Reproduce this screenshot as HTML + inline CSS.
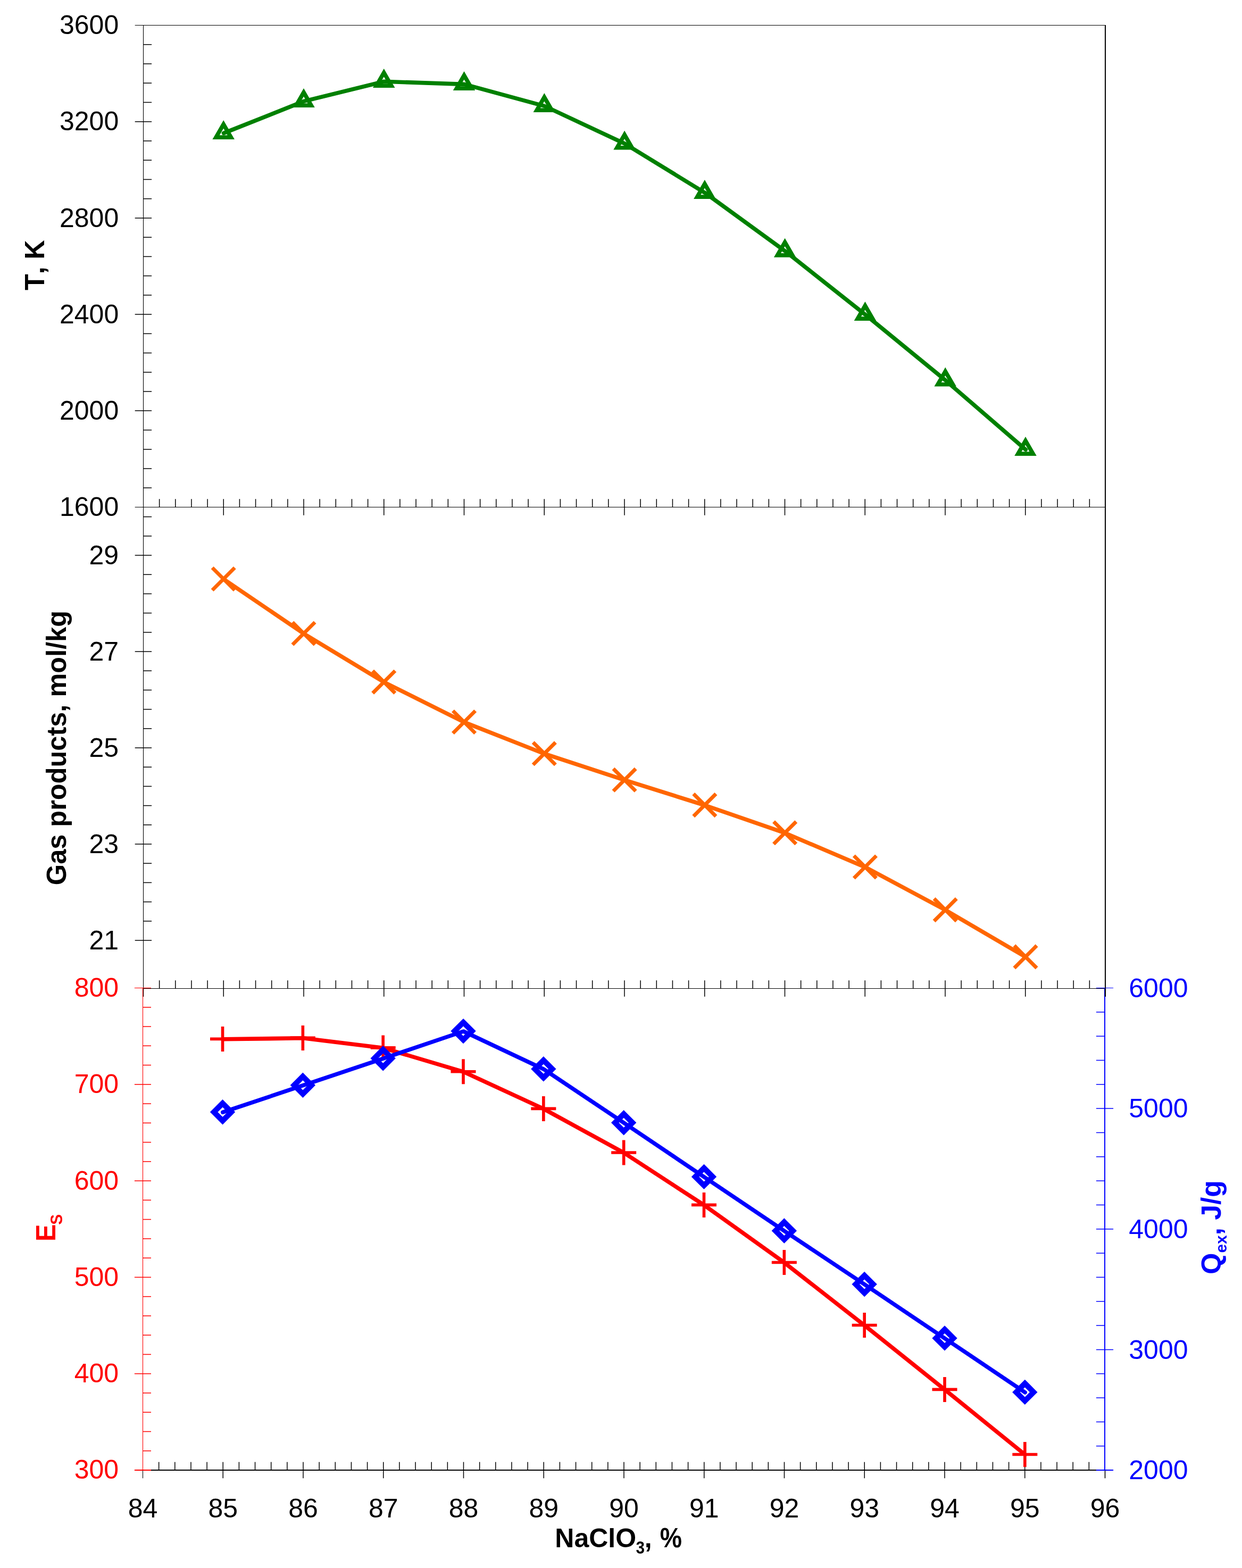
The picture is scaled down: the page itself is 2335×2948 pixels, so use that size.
<!DOCTYPE html>
<html lang="en">
<head>
<meta charset="utf-8">
<title>Combustion characteristics vs NaClO3 content</title>
<style>
html, body { margin: 0; padding: 0; background: #ffffff; }
body { width: 2335px; height: 2948px; overflow: hidden; }
svg { display: block; font-family: "Liberation Sans", sans-serif; font-kerning: none; }
</style>
</head>
<body>
<svg width="2335" height="2948" viewBox="0 0 2335 2948">
<rect x="0" y="0" width="2335" height="2948" fill="#ffffff"/>
<g id="frame">
<line x1="253.70" y1="47.50" x2="2079.00" y2="47.50" stroke="#000000" stroke-width="1.1"/>
<line x1="269.50" y1="47.50" x2="269.50" y2="1873.80" stroke="#000000" stroke-width="1.1"/>
<line x1="2078.00" y1="47.00" x2="2078.00" y2="1873.80" stroke="#000000" stroke-width="2"/>
<line x1="253.70" y1="953.50" x2="2078.00" y2="953.50" stroke="#000000" stroke-width="1.1"/>
<line x1="269.50" y1="1858.50" x2="2078.00" y2="1858.50" stroke="#000000" stroke-width="1.1"/>
<line x1="283.80" y1="2764.00" x2="2061.70" y2="2764.00" stroke="#000000" stroke-width="2"/>
<line x1="268.50" y1="2764.00" x2="268.50" y2="2779.30" stroke="#000000" stroke-width="1.1"/>
<line x1="2077.50" y1="2764.00" x2="2077.50" y2="2779.30" stroke="#000000" stroke-width="1.6"/>
</g>
<g id="xticks">
<line x1="299.65" y1="938.20" x2="299.65" y2="953.50" stroke="#000000" stroke-width="1.5"/>
<line x1="329.80" y1="938.20" x2="329.80" y2="953.50" stroke="#000000" stroke-width="1.5"/>
<line x1="359.95" y1="938.20" x2="359.95" y2="953.50" stroke="#000000" stroke-width="1.5"/>
<line x1="390.10" y1="938.20" x2="390.10" y2="953.50" stroke="#000000" stroke-width="1.5"/>
<line x1="420.25" y1="938.20" x2="420.25" y2="968.80" stroke="#000000" stroke-width="1.5"/>
<line x1="450.40" y1="938.20" x2="450.40" y2="953.50" stroke="#000000" stroke-width="1.5"/>
<line x1="480.55" y1="938.20" x2="480.55" y2="953.50" stroke="#000000" stroke-width="1.5"/>
<line x1="510.70" y1="938.20" x2="510.70" y2="953.50" stroke="#000000" stroke-width="1.5"/>
<line x1="540.85" y1="938.20" x2="540.85" y2="953.50" stroke="#000000" stroke-width="1.5"/>
<line x1="571.00" y1="938.20" x2="571.00" y2="968.80" stroke="#000000" stroke-width="1.5"/>
<line x1="601.15" y1="938.20" x2="601.15" y2="953.50" stroke="#000000" stroke-width="1.5"/>
<line x1="631.30" y1="938.20" x2="631.30" y2="953.50" stroke="#000000" stroke-width="1.5"/>
<line x1="661.45" y1="938.20" x2="661.45" y2="953.50" stroke="#000000" stroke-width="1.5"/>
<line x1="691.60" y1="938.20" x2="691.60" y2="953.50" stroke="#000000" stroke-width="1.5"/>
<line x1="721.75" y1="938.20" x2="721.75" y2="968.80" stroke="#000000" stroke-width="1.5"/>
<line x1="751.90" y1="938.20" x2="751.90" y2="953.50" stroke="#000000" stroke-width="1.5"/>
<line x1="782.05" y1="938.20" x2="782.05" y2="953.50" stroke="#000000" stroke-width="1.5"/>
<line x1="812.20" y1="938.20" x2="812.20" y2="953.50" stroke="#000000" stroke-width="1.5"/>
<line x1="842.35" y1="938.20" x2="842.35" y2="953.50" stroke="#000000" stroke-width="1.5"/>
<line x1="872.50" y1="938.20" x2="872.50" y2="968.80" stroke="#000000" stroke-width="1.5"/>
<line x1="902.65" y1="938.20" x2="902.65" y2="953.50" stroke="#000000" stroke-width="1.5"/>
<line x1="932.80" y1="938.20" x2="932.80" y2="953.50" stroke="#000000" stroke-width="1.5"/>
<line x1="962.95" y1="938.20" x2="962.95" y2="953.50" stroke="#000000" stroke-width="1.5"/>
<line x1="993.10" y1="938.20" x2="993.10" y2="953.50" stroke="#000000" stroke-width="1.5"/>
<line x1="1023.25" y1="938.20" x2="1023.25" y2="968.80" stroke="#000000" stroke-width="1.5"/>
<line x1="1053.40" y1="938.20" x2="1053.40" y2="953.50" stroke="#000000" stroke-width="1.5"/>
<line x1="1083.55" y1="938.20" x2="1083.55" y2="953.50" stroke="#000000" stroke-width="1.5"/>
<line x1="1113.70" y1="938.20" x2="1113.70" y2="953.50" stroke="#000000" stroke-width="1.5"/>
<line x1="1143.85" y1="938.20" x2="1143.85" y2="953.50" stroke="#000000" stroke-width="1.5"/>
<line x1="1174.00" y1="938.20" x2="1174.00" y2="968.80" stroke="#000000" stroke-width="1.5"/>
<line x1="1204.15" y1="938.20" x2="1204.15" y2="953.50" stroke="#000000" stroke-width="1.5"/>
<line x1="1234.30" y1="938.20" x2="1234.30" y2="953.50" stroke="#000000" stroke-width="1.5"/>
<line x1="1264.45" y1="938.20" x2="1264.45" y2="953.50" stroke="#000000" stroke-width="1.5"/>
<line x1="1294.60" y1="938.20" x2="1294.60" y2="953.50" stroke="#000000" stroke-width="1.5"/>
<line x1="1324.75" y1="938.20" x2="1324.75" y2="968.80" stroke="#000000" stroke-width="1.5"/>
<line x1="1354.90" y1="938.20" x2="1354.90" y2="953.50" stroke="#000000" stroke-width="1.5"/>
<line x1="1385.05" y1="938.20" x2="1385.05" y2="953.50" stroke="#000000" stroke-width="1.5"/>
<line x1="1415.20" y1="938.20" x2="1415.20" y2="953.50" stroke="#000000" stroke-width="1.5"/>
<line x1="1445.35" y1="938.20" x2="1445.35" y2="953.50" stroke="#000000" stroke-width="1.5"/>
<line x1="1475.50" y1="938.20" x2="1475.50" y2="968.80" stroke="#000000" stroke-width="1.5"/>
<line x1="1505.65" y1="938.20" x2="1505.65" y2="953.50" stroke="#000000" stroke-width="1.5"/>
<line x1="1535.80" y1="938.20" x2="1535.80" y2="953.50" stroke="#000000" stroke-width="1.5"/>
<line x1="1565.95" y1="938.20" x2="1565.95" y2="953.50" stroke="#000000" stroke-width="1.5"/>
<line x1="1596.10" y1="938.20" x2="1596.10" y2="953.50" stroke="#000000" stroke-width="1.5"/>
<line x1="1626.25" y1="938.20" x2="1626.25" y2="968.80" stroke="#000000" stroke-width="1.5"/>
<line x1="1656.40" y1="938.20" x2="1656.40" y2="953.50" stroke="#000000" stroke-width="1.5"/>
<line x1="1686.55" y1="938.20" x2="1686.55" y2="953.50" stroke="#000000" stroke-width="1.5"/>
<line x1="1716.70" y1="938.20" x2="1716.70" y2="953.50" stroke="#000000" stroke-width="1.5"/>
<line x1="1746.85" y1="938.20" x2="1746.85" y2="953.50" stroke="#000000" stroke-width="1.5"/>
<line x1="1777.00" y1="938.20" x2="1777.00" y2="968.80" stroke="#000000" stroke-width="1.5"/>
<line x1="1807.15" y1="938.20" x2="1807.15" y2="953.50" stroke="#000000" stroke-width="1.5"/>
<line x1="1837.30" y1="938.20" x2="1837.30" y2="953.50" stroke="#000000" stroke-width="1.5"/>
<line x1="1867.45" y1="938.20" x2="1867.45" y2="953.50" stroke="#000000" stroke-width="1.5"/>
<line x1="1897.60" y1="938.20" x2="1897.60" y2="953.50" stroke="#000000" stroke-width="1.5"/>
<line x1="1927.75" y1="938.20" x2="1927.75" y2="968.80" stroke="#000000" stroke-width="1.5"/>
<line x1="1957.90" y1="938.20" x2="1957.90" y2="953.50" stroke="#000000" stroke-width="1.5"/>
<line x1="1988.05" y1="938.20" x2="1988.05" y2="953.50" stroke="#000000" stroke-width="1.5"/>
<line x1="2018.20" y1="938.20" x2="2018.20" y2="953.50" stroke="#000000" stroke-width="1.5"/>
<line x1="2048.35" y1="938.20" x2="2048.35" y2="953.50" stroke="#000000" stroke-width="1.5"/>
<line x1="299.65" y1="1843.20" x2="299.65" y2="1858.50" stroke="#000000" stroke-width="1.5"/>
<line x1="329.80" y1="1843.20" x2="329.80" y2="1858.50" stroke="#000000" stroke-width="1.5"/>
<line x1="359.95" y1="1843.20" x2="359.95" y2="1858.50" stroke="#000000" stroke-width="1.5"/>
<line x1="390.10" y1="1843.20" x2="390.10" y2="1858.50" stroke="#000000" stroke-width="1.5"/>
<line x1="420.25" y1="1843.20" x2="420.25" y2="1873.80" stroke="#000000" stroke-width="1.5"/>
<line x1="450.40" y1="1843.20" x2="450.40" y2="1858.50" stroke="#000000" stroke-width="1.5"/>
<line x1="480.55" y1="1843.20" x2="480.55" y2="1858.50" stroke="#000000" stroke-width="1.5"/>
<line x1="510.70" y1="1843.20" x2="510.70" y2="1858.50" stroke="#000000" stroke-width="1.5"/>
<line x1="540.85" y1="1843.20" x2="540.85" y2="1858.50" stroke="#000000" stroke-width="1.5"/>
<line x1="571.00" y1="1843.20" x2="571.00" y2="1873.80" stroke="#000000" stroke-width="1.5"/>
<line x1="601.15" y1="1843.20" x2="601.15" y2="1858.50" stroke="#000000" stroke-width="1.5"/>
<line x1="631.30" y1="1843.20" x2="631.30" y2="1858.50" stroke="#000000" stroke-width="1.5"/>
<line x1="661.45" y1="1843.20" x2="661.45" y2="1858.50" stroke="#000000" stroke-width="1.5"/>
<line x1="691.60" y1="1843.20" x2="691.60" y2="1858.50" stroke="#000000" stroke-width="1.5"/>
<line x1="721.75" y1="1843.20" x2="721.75" y2="1873.80" stroke="#000000" stroke-width="1.5"/>
<line x1="751.90" y1="1843.20" x2="751.90" y2="1858.50" stroke="#000000" stroke-width="1.5"/>
<line x1="782.05" y1="1843.20" x2="782.05" y2="1858.50" stroke="#000000" stroke-width="1.5"/>
<line x1="812.20" y1="1843.20" x2="812.20" y2="1858.50" stroke="#000000" stroke-width="1.5"/>
<line x1="842.35" y1="1843.20" x2="842.35" y2="1858.50" stroke="#000000" stroke-width="1.5"/>
<line x1="872.50" y1="1843.20" x2="872.50" y2="1873.80" stroke="#000000" stroke-width="1.5"/>
<line x1="902.65" y1="1843.20" x2="902.65" y2="1858.50" stroke="#000000" stroke-width="1.5"/>
<line x1="932.80" y1="1843.20" x2="932.80" y2="1858.50" stroke="#000000" stroke-width="1.5"/>
<line x1="962.95" y1="1843.20" x2="962.95" y2="1858.50" stroke="#000000" stroke-width="1.5"/>
<line x1="993.10" y1="1843.20" x2="993.10" y2="1858.50" stroke="#000000" stroke-width="1.5"/>
<line x1="1023.25" y1="1843.20" x2="1023.25" y2="1873.80" stroke="#000000" stroke-width="1.5"/>
<line x1="1053.40" y1="1843.20" x2="1053.40" y2="1858.50" stroke="#000000" stroke-width="1.5"/>
<line x1="1083.55" y1="1843.20" x2="1083.55" y2="1858.50" stroke="#000000" stroke-width="1.5"/>
<line x1="1113.70" y1="1843.20" x2="1113.70" y2="1858.50" stroke="#000000" stroke-width="1.5"/>
<line x1="1143.85" y1="1843.20" x2="1143.85" y2="1858.50" stroke="#000000" stroke-width="1.5"/>
<line x1="1174.00" y1="1843.20" x2="1174.00" y2="1873.80" stroke="#000000" stroke-width="1.5"/>
<line x1="1204.15" y1="1843.20" x2="1204.15" y2="1858.50" stroke="#000000" stroke-width="1.5"/>
<line x1="1234.30" y1="1843.20" x2="1234.30" y2="1858.50" stroke="#000000" stroke-width="1.5"/>
<line x1="1264.45" y1="1843.20" x2="1264.45" y2="1858.50" stroke="#000000" stroke-width="1.5"/>
<line x1="1294.60" y1="1843.20" x2="1294.60" y2="1858.50" stroke="#000000" stroke-width="1.5"/>
<line x1="1324.75" y1="1843.20" x2="1324.75" y2="1873.80" stroke="#000000" stroke-width="1.5"/>
<line x1="1354.90" y1="1843.20" x2="1354.90" y2="1858.50" stroke="#000000" stroke-width="1.5"/>
<line x1="1385.05" y1="1843.20" x2="1385.05" y2="1858.50" stroke="#000000" stroke-width="1.5"/>
<line x1="1415.20" y1="1843.20" x2="1415.20" y2="1858.50" stroke="#000000" stroke-width="1.5"/>
<line x1="1445.35" y1="1843.20" x2="1445.35" y2="1858.50" stroke="#000000" stroke-width="1.5"/>
<line x1="1475.50" y1="1843.20" x2="1475.50" y2="1873.80" stroke="#000000" stroke-width="1.5"/>
<line x1="1505.65" y1="1843.20" x2="1505.65" y2="1858.50" stroke="#000000" stroke-width="1.5"/>
<line x1="1535.80" y1="1843.20" x2="1535.80" y2="1858.50" stroke="#000000" stroke-width="1.5"/>
<line x1="1565.95" y1="1843.20" x2="1565.95" y2="1858.50" stroke="#000000" stroke-width="1.5"/>
<line x1="1596.10" y1="1843.20" x2="1596.10" y2="1858.50" stroke="#000000" stroke-width="1.5"/>
<line x1="1626.25" y1="1843.20" x2="1626.25" y2="1873.80" stroke="#000000" stroke-width="1.5"/>
<line x1="1656.40" y1="1843.20" x2="1656.40" y2="1858.50" stroke="#000000" stroke-width="1.5"/>
<line x1="1686.55" y1="1843.20" x2="1686.55" y2="1858.50" stroke="#000000" stroke-width="1.5"/>
<line x1="1716.70" y1="1843.20" x2="1716.70" y2="1858.50" stroke="#000000" stroke-width="1.5"/>
<line x1="1746.85" y1="1843.20" x2="1746.85" y2="1858.50" stroke="#000000" stroke-width="1.5"/>
<line x1="1777.00" y1="1843.20" x2="1777.00" y2="1873.80" stroke="#000000" stroke-width="1.5"/>
<line x1="1807.15" y1="1843.20" x2="1807.15" y2="1858.50" stroke="#000000" stroke-width="1.5"/>
<line x1="1837.30" y1="1843.20" x2="1837.30" y2="1858.50" stroke="#000000" stroke-width="1.5"/>
<line x1="1867.45" y1="1843.20" x2="1867.45" y2="1858.50" stroke="#000000" stroke-width="1.5"/>
<line x1="1897.60" y1="1843.20" x2="1897.60" y2="1858.50" stroke="#000000" stroke-width="1.5"/>
<line x1="1927.75" y1="1843.20" x2="1927.75" y2="1873.80" stroke="#000000" stroke-width="1.5"/>
<line x1="1957.90" y1="1843.20" x2="1957.90" y2="1858.50" stroke="#000000" stroke-width="1.5"/>
<line x1="1988.05" y1="1843.20" x2="1988.05" y2="1858.50" stroke="#000000" stroke-width="1.5"/>
<line x1="2018.20" y1="1843.20" x2="2018.20" y2="1858.50" stroke="#000000" stroke-width="1.5"/>
<line x1="2048.35" y1="1843.20" x2="2048.35" y2="1858.50" stroke="#000000" stroke-width="1.5"/>
<line x1="298.65" y1="2748.70" x2="298.65" y2="2764.00" stroke="#000000" stroke-width="1.5"/>
<line x1="328.80" y1="2748.70" x2="328.80" y2="2764.00" stroke="#000000" stroke-width="1.5"/>
<line x1="358.95" y1="2748.70" x2="358.95" y2="2764.00" stroke="#000000" stroke-width="1.5"/>
<line x1="389.10" y1="2748.70" x2="389.10" y2="2764.00" stroke="#000000" stroke-width="1.5"/>
<line x1="419.25" y1="2748.70" x2="419.25" y2="2779.30" stroke="#000000" stroke-width="1.5"/>
<line x1="449.40" y1="2748.70" x2="449.40" y2="2764.00" stroke="#000000" stroke-width="1.5"/>
<line x1="479.55" y1="2748.70" x2="479.55" y2="2764.00" stroke="#000000" stroke-width="1.5"/>
<line x1="509.70" y1="2748.70" x2="509.70" y2="2764.00" stroke="#000000" stroke-width="1.5"/>
<line x1="539.85" y1="2748.70" x2="539.85" y2="2764.00" stroke="#000000" stroke-width="1.5"/>
<line x1="570.00" y1="2748.70" x2="570.00" y2="2779.30" stroke="#000000" stroke-width="1.5"/>
<line x1="600.15" y1="2748.70" x2="600.15" y2="2764.00" stroke="#000000" stroke-width="1.5"/>
<line x1="630.30" y1="2748.70" x2="630.30" y2="2764.00" stroke="#000000" stroke-width="1.5"/>
<line x1="660.45" y1="2748.70" x2="660.45" y2="2764.00" stroke="#000000" stroke-width="1.5"/>
<line x1="690.60" y1="2748.70" x2="690.60" y2="2764.00" stroke="#000000" stroke-width="1.5"/>
<line x1="720.75" y1="2748.70" x2="720.75" y2="2779.30" stroke="#000000" stroke-width="1.5"/>
<line x1="750.90" y1="2748.70" x2="750.90" y2="2764.00" stroke="#000000" stroke-width="1.5"/>
<line x1="781.05" y1="2748.70" x2="781.05" y2="2764.00" stroke="#000000" stroke-width="1.5"/>
<line x1="811.20" y1="2748.70" x2="811.20" y2="2764.00" stroke="#000000" stroke-width="1.5"/>
<line x1="841.35" y1="2748.70" x2="841.35" y2="2764.00" stroke="#000000" stroke-width="1.5"/>
<line x1="871.50" y1="2748.70" x2="871.50" y2="2779.30" stroke="#000000" stroke-width="1.5"/>
<line x1="901.65" y1="2748.70" x2="901.65" y2="2764.00" stroke="#000000" stroke-width="1.5"/>
<line x1="931.80" y1="2748.70" x2="931.80" y2="2764.00" stroke="#000000" stroke-width="1.5"/>
<line x1="961.95" y1="2748.70" x2="961.95" y2="2764.00" stroke="#000000" stroke-width="1.5"/>
<line x1="992.10" y1="2748.70" x2="992.10" y2="2764.00" stroke="#000000" stroke-width="1.5"/>
<line x1="1022.25" y1="2748.70" x2="1022.25" y2="2779.30" stroke="#000000" stroke-width="1.5"/>
<line x1="1052.40" y1="2748.70" x2="1052.40" y2="2764.00" stroke="#000000" stroke-width="1.5"/>
<line x1="1082.55" y1="2748.70" x2="1082.55" y2="2764.00" stroke="#000000" stroke-width="1.5"/>
<line x1="1112.70" y1="2748.70" x2="1112.70" y2="2764.00" stroke="#000000" stroke-width="1.5"/>
<line x1="1142.85" y1="2748.70" x2="1142.85" y2="2764.00" stroke="#000000" stroke-width="1.5"/>
<line x1="1173.00" y1="2748.70" x2="1173.00" y2="2779.30" stroke="#000000" stroke-width="1.5"/>
<line x1="1203.15" y1="2748.70" x2="1203.15" y2="2764.00" stroke="#000000" stroke-width="1.5"/>
<line x1="1233.30" y1="2748.70" x2="1233.30" y2="2764.00" stroke="#000000" stroke-width="1.5"/>
<line x1="1263.45" y1="2748.70" x2="1263.45" y2="2764.00" stroke="#000000" stroke-width="1.5"/>
<line x1="1293.60" y1="2748.70" x2="1293.60" y2="2764.00" stroke="#000000" stroke-width="1.5"/>
<line x1="1323.75" y1="2748.70" x2="1323.75" y2="2779.30" stroke="#000000" stroke-width="1.5"/>
<line x1="1353.90" y1="2748.70" x2="1353.90" y2="2764.00" stroke="#000000" stroke-width="1.5"/>
<line x1="1384.05" y1="2748.70" x2="1384.05" y2="2764.00" stroke="#000000" stroke-width="1.5"/>
<line x1="1414.20" y1="2748.70" x2="1414.20" y2="2764.00" stroke="#000000" stroke-width="1.5"/>
<line x1="1444.35" y1="2748.70" x2="1444.35" y2="2764.00" stroke="#000000" stroke-width="1.5"/>
<line x1="1474.50" y1="2748.70" x2="1474.50" y2="2779.30" stroke="#000000" stroke-width="1.5"/>
<line x1="1504.65" y1="2748.70" x2="1504.65" y2="2764.00" stroke="#000000" stroke-width="1.5"/>
<line x1="1534.80" y1="2748.70" x2="1534.80" y2="2764.00" stroke="#000000" stroke-width="1.5"/>
<line x1="1564.95" y1="2748.70" x2="1564.95" y2="2764.00" stroke="#000000" stroke-width="1.5"/>
<line x1="1595.10" y1="2748.70" x2="1595.10" y2="2764.00" stroke="#000000" stroke-width="1.5"/>
<line x1="1625.25" y1="2748.70" x2="1625.25" y2="2779.30" stroke="#000000" stroke-width="1.5"/>
<line x1="1655.40" y1="2748.70" x2="1655.40" y2="2764.00" stroke="#000000" stroke-width="1.5"/>
<line x1="1685.55" y1="2748.70" x2="1685.55" y2="2764.00" stroke="#000000" stroke-width="1.5"/>
<line x1="1715.70" y1="2748.70" x2="1715.70" y2="2764.00" stroke="#000000" stroke-width="1.5"/>
<line x1="1745.85" y1="2748.70" x2="1745.85" y2="2764.00" stroke="#000000" stroke-width="1.5"/>
<line x1="1776.00" y1="2748.70" x2="1776.00" y2="2779.30" stroke="#000000" stroke-width="1.5"/>
<line x1="1806.15" y1="2748.70" x2="1806.15" y2="2764.00" stroke="#000000" stroke-width="1.5"/>
<line x1="1836.30" y1="2748.70" x2="1836.30" y2="2764.00" stroke="#000000" stroke-width="1.5"/>
<line x1="1866.45" y1="2748.70" x2="1866.45" y2="2764.00" stroke="#000000" stroke-width="1.5"/>
<line x1="1896.60" y1="2748.70" x2="1896.60" y2="2764.00" stroke="#000000" stroke-width="1.5"/>
<line x1="1926.75" y1="2748.70" x2="1926.75" y2="2779.30" stroke="#000000" stroke-width="1.5"/>
<line x1="1956.90" y1="2748.70" x2="1956.90" y2="2764.00" stroke="#000000" stroke-width="1.5"/>
<line x1="1987.05" y1="2748.70" x2="1987.05" y2="2764.00" stroke="#000000" stroke-width="1.5"/>
<line x1="2017.20" y1="2748.70" x2="2017.20" y2="2764.00" stroke="#000000" stroke-width="1.5"/>
<line x1="2047.35" y1="2748.70" x2="2047.35" y2="2764.00" stroke="#000000" stroke-width="1.5"/>
</g>
<g id="panel1-axis">
<line x1="269.50" y1="917.26" x2="285.10" y2="917.26" stroke="#000000" stroke-width="1.5"/>
<line x1="269.50" y1="881.02" x2="285.10" y2="881.02" stroke="#000000" stroke-width="1.5"/>
<line x1="269.50" y1="844.78" x2="285.10" y2="844.78" stroke="#000000" stroke-width="1.5"/>
<line x1="269.50" y1="808.54" x2="285.10" y2="808.54" stroke="#000000" stroke-width="1.5"/>
<line x1="269.50" y1="736.06" x2="285.10" y2="736.06" stroke="#000000" stroke-width="1.5"/>
<line x1="269.50" y1="699.82" x2="285.10" y2="699.82" stroke="#000000" stroke-width="1.5"/>
<line x1="269.50" y1="663.58" x2="285.10" y2="663.58" stroke="#000000" stroke-width="1.5"/>
<line x1="269.50" y1="627.34" x2="285.10" y2="627.34" stroke="#000000" stroke-width="1.5"/>
<line x1="269.50" y1="554.86" x2="285.10" y2="554.86" stroke="#000000" stroke-width="1.5"/>
<line x1="269.50" y1="518.62" x2="285.10" y2="518.62" stroke="#000000" stroke-width="1.5"/>
<line x1="269.50" y1="482.38" x2="285.10" y2="482.38" stroke="#000000" stroke-width="1.5"/>
<line x1="269.50" y1="446.14" x2="285.10" y2="446.14" stroke="#000000" stroke-width="1.5"/>
<line x1="269.50" y1="373.66" x2="285.10" y2="373.66" stroke="#000000" stroke-width="1.5"/>
<line x1="269.50" y1="337.42" x2="285.10" y2="337.42" stroke="#000000" stroke-width="1.5"/>
<line x1="269.50" y1="301.18" x2="285.10" y2="301.18" stroke="#000000" stroke-width="1.5"/>
<line x1="269.50" y1="264.94" x2="285.10" y2="264.94" stroke="#000000" stroke-width="1.5"/>
<line x1="269.50" y1="192.46" x2="285.10" y2="192.46" stroke="#000000" stroke-width="1.5"/>
<line x1="269.50" y1="156.22" x2="285.10" y2="156.22" stroke="#000000" stroke-width="1.5"/>
<line x1="269.50" y1="119.98" x2="285.10" y2="119.98" stroke="#000000" stroke-width="1.5"/>
<line x1="269.50" y1="83.74" x2="285.10" y2="83.74" stroke="#000000" stroke-width="1.5"/>
<text x="223.20" y="64.10" fill="#000000" text-anchor="end" font-size="50">3600</text>
<line x1="253.70" y1="228.70" x2="285.10" y2="228.70" stroke="#000000" stroke-width="1.5"/>
<text x="223.20" y="245.30" fill="#000000" text-anchor="end" font-size="50">3200</text>
<line x1="253.70" y1="409.90" x2="285.10" y2="409.90" stroke="#000000" stroke-width="1.5"/>
<text x="223.20" y="426.50" fill="#000000" text-anchor="end" font-size="50">2800</text>
<line x1="253.70" y1="591.10" x2="285.10" y2="591.10" stroke="#000000" stroke-width="1.5"/>
<text x="223.20" y="607.70" fill="#000000" text-anchor="end" font-size="50">2400</text>
<line x1="253.70" y1="772.30" x2="285.10" y2="772.30" stroke="#000000" stroke-width="1.5"/>
<text x="223.20" y="788.90" fill="#000000" text-anchor="end" font-size="50">2000</text>
<text x="223.20" y="970.10" fill="#000000" text-anchor="end" font-size="50">1600</text>
</g>
<g id="panel2-axis">
<line x1="269.50" y1="1731.80" x2="285.10" y2="1731.80" stroke="#000000" stroke-width="1.5"/>
<line x1="269.50" y1="1695.60" x2="285.10" y2="1695.60" stroke="#000000" stroke-width="1.5"/>
<line x1="269.50" y1="1659.40" x2="285.10" y2="1659.40" stroke="#000000" stroke-width="1.5"/>
<line x1="269.50" y1="1623.20" x2="285.10" y2="1623.20" stroke="#000000" stroke-width="1.5"/>
<line x1="269.50" y1="1550.80" x2="285.10" y2="1550.80" stroke="#000000" stroke-width="1.5"/>
<line x1="269.50" y1="1514.60" x2="285.10" y2="1514.60" stroke="#000000" stroke-width="1.5"/>
<line x1="269.50" y1="1478.40" x2="285.10" y2="1478.40" stroke="#000000" stroke-width="1.5"/>
<line x1="269.50" y1="1442.20" x2="285.10" y2="1442.20" stroke="#000000" stroke-width="1.5"/>
<line x1="269.50" y1="1369.80" x2="285.10" y2="1369.80" stroke="#000000" stroke-width="1.5"/>
<line x1="269.50" y1="1333.60" x2="285.10" y2="1333.60" stroke="#000000" stroke-width="1.5"/>
<line x1="269.50" y1="1297.40" x2="285.10" y2="1297.40" stroke="#000000" stroke-width="1.5"/>
<line x1="269.50" y1="1261.20" x2="285.10" y2="1261.20" stroke="#000000" stroke-width="1.5"/>
<line x1="269.50" y1="1188.80" x2="285.10" y2="1188.80" stroke="#000000" stroke-width="1.5"/>
<line x1="269.50" y1="1152.60" x2="285.10" y2="1152.60" stroke="#000000" stroke-width="1.5"/>
<line x1="269.50" y1="1116.40" x2="285.10" y2="1116.40" stroke="#000000" stroke-width="1.5"/>
<line x1="269.50" y1="1080.20" x2="285.10" y2="1080.20" stroke="#000000" stroke-width="1.5"/>
<line x1="269.50" y1="1007.80" x2="285.10" y2="1007.80" stroke="#000000" stroke-width="1.5"/>
<line x1="269.50" y1="971.60" x2="285.10" y2="971.60" stroke="#000000" stroke-width="1.5"/>
<line x1="253.70" y1="1044.00" x2="285.10" y2="1044.00" stroke="#000000" stroke-width="1.5"/>
<text x="223.20" y="1060.60" fill="#000000" text-anchor="end" font-size="50">29</text>
<line x1="253.70" y1="1225.00" x2="285.10" y2="1225.00" stroke="#000000" stroke-width="1.5"/>
<text x="223.20" y="1241.60" fill="#000000" text-anchor="end" font-size="50">27</text>
<line x1="253.70" y1="1406.00" x2="285.10" y2="1406.00" stroke="#000000" stroke-width="1.5"/>
<text x="223.20" y="1422.60" fill="#000000" text-anchor="end" font-size="50">25</text>
<line x1="253.70" y1="1587.00" x2="285.10" y2="1587.00" stroke="#000000" stroke-width="1.5"/>
<text x="223.20" y="1603.60" fill="#000000" text-anchor="end" font-size="50">23</text>
<line x1="253.70" y1="1768.00" x2="285.10" y2="1768.00" stroke="#000000" stroke-width="1.5"/>
<text x="223.20" y="1784.60" fill="#000000" text-anchor="end" font-size="50">21</text>
</g>
<g id="panel3-left-axis">
<line x1="268.50" y1="1857.00" x2="268.50" y2="2765.00" stroke="#ff0000" stroke-width="1.1"/>
<line x1="252.90" y1="2764.00" x2="284.00" y2="2764.00" stroke="#ff0000" stroke-width="2.0"/>
<text x="223.20" y="2780.30" fill="#ff0000" text-anchor="end" font-size="50">300</text>
<line x1="268.50" y1="2727.74" x2="284.00" y2="2727.74" stroke="#ff0000" stroke-width="1.5"/>
<line x1="268.50" y1="2691.48" x2="284.00" y2="2691.48" stroke="#ff0000" stroke-width="1.5"/>
<line x1="268.50" y1="2655.22" x2="284.00" y2="2655.22" stroke="#ff0000" stroke-width="1.5"/>
<line x1="268.50" y1="2618.96" x2="284.00" y2="2618.96" stroke="#ff0000" stroke-width="1.5"/>
<line x1="252.90" y1="2582.70" x2="284.00" y2="2582.70" stroke="#ff0000" stroke-width="1.5"/>
<text x="223.20" y="2599.30" fill="#ff0000" text-anchor="end" font-size="50">400</text>
<line x1="268.50" y1="2546.44" x2="284.00" y2="2546.44" stroke="#ff0000" stroke-width="1.5"/>
<line x1="268.50" y1="2510.18" x2="284.00" y2="2510.18" stroke="#ff0000" stroke-width="1.5"/>
<line x1="268.50" y1="2473.92" x2="284.00" y2="2473.92" stroke="#ff0000" stroke-width="1.5"/>
<line x1="268.50" y1="2437.66" x2="284.00" y2="2437.66" stroke="#ff0000" stroke-width="1.5"/>
<line x1="252.90" y1="2401.40" x2="284.00" y2="2401.40" stroke="#ff0000" stroke-width="1.5"/>
<text x="223.20" y="2418.00" fill="#ff0000" text-anchor="end" font-size="50">500</text>
<line x1="268.50" y1="2365.14" x2="284.00" y2="2365.14" stroke="#ff0000" stroke-width="1.5"/>
<line x1="268.50" y1="2328.88" x2="284.00" y2="2328.88" stroke="#ff0000" stroke-width="1.5"/>
<line x1="268.50" y1="2292.62" x2="284.00" y2="2292.62" stroke="#ff0000" stroke-width="1.5"/>
<line x1="268.50" y1="2256.36" x2="284.00" y2="2256.36" stroke="#ff0000" stroke-width="1.5"/>
<line x1="252.90" y1="2220.10" x2="284.00" y2="2220.10" stroke="#ff0000" stroke-width="1.5"/>
<text x="223.20" y="2236.70" fill="#ff0000" text-anchor="end" font-size="50">600</text>
<line x1="268.50" y1="2183.84" x2="284.00" y2="2183.84" stroke="#ff0000" stroke-width="1.5"/>
<line x1="268.50" y1="2147.58" x2="284.00" y2="2147.58" stroke="#ff0000" stroke-width="1.5"/>
<line x1="268.50" y1="2111.32" x2="284.00" y2="2111.32" stroke="#ff0000" stroke-width="1.5"/>
<line x1="268.50" y1="2075.06" x2="284.00" y2="2075.06" stroke="#ff0000" stroke-width="1.5"/>
<line x1="252.90" y1="2038.80" x2="284.00" y2="2038.80" stroke="#ff0000" stroke-width="1.5"/>
<text x="223.20" y="2055.40" fill="#ff0000" text-anchor="end" font-size="50">700</text>
<line x1="268.50" y1="2002.54" x2="284.00" y2="2002.54" stroke="#ff0000" stroke-width="1.5"/>
<line x1="268.50" y1="1966.28" x2="284.00" y2="1966.28" stroke="#ff0000" stroke-width="1.5"/>
<line x1="268.50" y1="1930.02" x2="284.00" y2="1930.02" stroke="#ff0000" stroke-width="1.5"/>
<line x1="268.50" y1="1893.76" x2="284.00" y2="1893.76" stroke="#ff0000" stroke-width="1.5"/>
<line x1="252.90" y1="1857.50" x2="284.00" y2="1857.50" stroke="#ff0000" stroke-width="1.1"/>
<text x="223.20" y="1874.10" fill="#ff0000" text-anchor="end" font-size="50">800</text>
</g>
<g id="panel3-right-axis">
<line x1="2077.00" y1="1858.00" x2="2077.00" y2="2765.00" stroke="#0000ff" stroke-width="2"/>
<line x1="2060.90" y1="2764.00" x2="2093.10" y2="2764.00" stroke="#0000ff" stroke-width="2.0"/>
<text x="2122.30" y="2781.20" fill="#0000ff" text-anchor="start" font-size="50">2000</text>
<line x1="2060.90" y1="2718.68" x2="2077.00" y2="2718.68" stroke="#0000ff" stroke-width="1.5"/>
<line x1="2060.90" y1="2673.35" x2="2077.00" y2="2673.35" stroke="#0000ff" stroke-width="1.5"/>
<line x1="2060.90" y1="2628.03" x2="2077.00" y2="2628.03" stroke="#0000ff" stroke-width="1.5"/>
<line x1="2060.90" y1="2582.70" x2="2077.00" y2="2582.70" stroke="#0000ff" stroke-width="1.5"/>
<line x1="2060.90" y1="2537.38" x2="2093.10" y2="2537.38" stroke="#0000ff" stroke-width="1.5"/>
<text x="2122.30" y="2554.57" fill="#0000ff" text-anchor="start" font-size="50">3000</text>
<line x1="2060.90" y1="2492.05" x2="2077.00" y2="2492.05" stroke="#0000ff" stroke-width="1.5"/>
<line x1="2060.90" y1="2446.72" x2="2077.00" y2="2446.72" stroke="#0000ff" stroke-width="1.5"/>
<line x1="2060.90" y1="2401.40" x2="2077.00" y2="2401.40" stroke="#0000ff" stroke-width="1.5"/>
<line x1="2060.90" y1="2356.07" x2="2077.00" y2="2356.07" stroke="#0000ff" stroke-width="1.5"/>
<line x1="2060.90" y1="2310.75" x2="2093.10" y2="2310.75" stroke="#0000ff" stroke-width="1.5"/>
<text x="2122.30" y="2327.95" fill="#0000ff" text-anchor="start" font-size="50">4000</text>
<line x1="2060.90" y1="2265.43" x2="2077.00" y2="2265.43" stroke="#0000ff" stroke-width="1.5"/>
<line x1="2060.90" y1="2220.10" x2="2077.00" y2="2220.10" stroke="#0000ff" stroke-width="1.5"/>
<line x1="2060.90" y1="2174.78" x2="2077.00" y2="2174.78" stroke="#0000ff" stroke-width="1.5"/>
<line x1="2060.90" y1="2129.45" x2="2077.00" y2="2129.45" stroke="#0000ff" stroke-width="1.5"/>
<line x1="2060.90" y1="2084.12" x2="2093.10" y2="2084.12" stroke="#0000ff" stroke-width="1.5"/>
<text x="2122.30" y="2101.32" fill="#0000ff" text-anchor="start" font-size="50">5000</text>
<line x1="2060.90" y1="2038.80" x2="2077.00" y2="2038.80" stroke="#0000ff" stroke-width="1.5"/>
<line x1="2060.90" y1="1993.47" x2="2077.00" y2="1993.47" stroke="#0000ff" stroke-width="1.5"/>
<line x1="2060.90" y1="1948.15" x2="2077.00" y2="1948.15" stroke="#0000ff" stroke-width="1.5"/>
<line x1="2060.90" y1="1902.83" x2="2077.00" y2="1902.83" stroke="#0000ff" stroke-width="1.5"/>
<line x1="2060.90" y1="1857.50" x2="2093.10" y2="1857.50" stroke="#0000ff" stroke-width="1.1"/>
<text x="2122.30" y="1874.70" fill="#0000ff" text-anchor="start" font-size="50">6000</text>
</g>
<line x1="269.50" y1="1858.50" x2="269.50" y2="1873.80" stroke="#000000" stroke-width="1.1"/>
<line x1="2078.00" y1="1857.50" x2="2078.00" y2="1873.80" stroke="#000000" stroke-width="2"/>
<g id="xlabels">
<text x="268.60" y="2852.80" fill="#000000" text-anchor="middle" font-size="50">84</text>
<text x="419.35" y="2852.80" fill="#000000" text-anchor="middle" font-size="50">85</text>
<text x="570.10" y="2852.80" fill="#000000" text-anchor="middle" font-size="50">86</text>
<text x="720.85" y="2852.80" fill="#000000" text-anchor="middle" font-size="50">87</text>
<text x="871.60" y="2852.80" fill="#000000" text-anchor="middle" font-size="50">88</text>
<text x="1022.35" y="2852.80" fill="#000000" text-anchor="middle" font-size="50">89</text>
<text x="1173.10" y="2852.80" fill="#000000" text-anchor="middle" font-size="50">90</text>
<text x="1323.85" y="2852.80" fill="#000000" text-anchor="middle" font-size="50">91</text>
<text x="1474.60" y="2852.80" fill="#000000" text-anchor="middle" font-size="50">92</text>
<text x="1625.35" y="2852.80" fill="#000000" text-anchor="middle" font-size="50">93</text>
<text x="1776.10" y="2852.80" fill="#000000" text-anchor="middle" font-size="50">94</text>
<text x="1926.85" y="2852.80" fill="#000000" text-anchor="middle" font-size="50">95</text>
<text x="2077.60" y="2852.80" fill="#000000" text-anchor="middle" font-size="50">96</text>
</g>
<g id="titles">
<text transform="translate(83.00,498.60) rotate(-90) scale(1.0,1.03)" fill="#000000" text-anchor="middle" font-size="50" font-weight="bold">T, K</text>
<text transform="translate(124.30,1406.00) rotate(-90) scale(1.01,1.03)" fill="#000000" text-anchor="middle" font-size="50" font-weight="bold">Gas products, mol/kg</text>
<text transform="translate(104.10,2308.40) rotate(-90) scale(0.97,1.034)" fill="#ff0000" text-anchor="middle" font-size="50" font-weight="bold">E<tspan font-size="31" dx="-1" dy="12">S</tspan></text>
<text transform="translate(2295.00,2307.50) rotate(-90) scale(1.03,1.035)" fill="#0000ff" text-anchor="middle" font-size="50" font-weight="bold">Q<tspan font-size="29" dy="10.5">ex</tspan><tspan dy="-10.5">, J/g</tspan></text>
<text font-size="50" font-weight="bold" fill="#000000"><tspan x="1043.3" y="2909.2">NaClO</tspan><tspan x="1195.5" y="2920.6" font-size="32.4" textLength="16.5" lengthAdjust="spacingAndGlyphs">3</tspan><tspan x="1211.8" y="2909.2">, </tspan><tspan x="1240.8" y="2909.2" font-size="51" textLength="41.34" lengthAdjust="spacingAndGlyphs">%</tspan></text>
</g>
<g id="series-T">
<polyline transform="translate(0.3,0.4)" points="420.20,250.00 570.98,190.00 721.76,152.90 872.54,158.00 1023.32,199.00 1174.10,269.60 1324.88,362.00 1475.66,471.70 1626.44,591.00 1777.22,714.60 1928.00,845.00" fill="none" stroke="#008000" stroke-width="7.6" stroke-linejoin="round" stroke-linecap="round"/>
<polygon points="420.20,233.72 406.10,258.14 434.30,258.14" fill="none" stroke="#008000" stroke-width="7.7" stroke-linejoin="miter" stroke-miterlimit="10"/>
<polygon points="570.98,173.72 556.88,198.14 585.08,198.14" fill="none" stroke="#008000" stroke-width="7.7" stroke-linejoin="miter" stroke-miterlimit="10"/>
<polygon points="721.76,136.62 707.66,161.04 735.86,161.04" fill="none" stroke="#008000" stroke-width="7.7" stroke-linejoin="miter" stroke-miterlimit="10"/>
<polygon points="872.54,141.72 858.44,166.14 886.64,166.14" fill="none" stroke="#008000" stroke-width="7.7" stroke-linejoin="miter" stroke-miterlimit="10"/>
<polygon points="1023.32,182.72 1009.22,207.14 1037.42,207.14" fill="none" stroke="#008000" stroke-width="7.7" stroke-linejoin="miter" stroke-miterlimit="10"/>
<polygon points="1174.10,253.32 1160.00,277.74 1188.20,277.74" fill="none" stroke="#008000" stroke-width="7.7" stroke-linejoin="miter" stroke-miterlimit="10"/>
<polygon points="1324.88,345.72 1310.78,370.14 1338.98,370.14" fill="none" stroke="#008000" stroke-width="7.7" stroke-linejoin="miter" stroke-miterlimit="10"/>
<polygon points="1475.66,455.42 1461.56,479.84 1489.76,479.84" fill="none" stroke="#008000" stroke-width="7.7" stroke-linejoin="miter" stroke-miterlimit="10"/>
<polygon points="1626.44,574.72 1612.34,599.14 1640.54,599.14" fill="none" stroke="#008000" stroke-width="7.7" stroke-linejoin="miter" stroke-miterlimit="10"/>
<polygon points="1777.22,698.32 1763.12,722.74 1791.32,722.74" fill="none" stroke="#008000" stroke-width="7.7" stroke-linejoin="miter" stroke-miterlimit="10"/>
<polygon points="1928.00,828.72 1913.90,853.14 1942.10,853.14" fill="none" stroke="#008000" stroke-width="7.7" stroke-linejoin="miter" stroke-miterlimit="10"/>
</g>
<g id="series-gas">
<polyline transform="translate(0.3,0.4)" points="420.20,1088.50 570.98,1191.00 721.76,1282.20 872.54,1357.50 1023.32,1416.80 1174.10,1466.30 1324.88,1513.60 1475.66,1565.80 1626.44,1630.00 1777.22,1710.60 1928.00,1798.90" fill="none" stroke="#ff6600" stroke-width="7.6" stroke-linejoin="round" stroke-linecap="round"/>
<path d="M399.10 1067.40L441.30 1109.60M399.10 1109.60L441.30 1067.40" fill="none" stroke="#ff6600" stroke-width="6.9" stroke-linecap="butt"/>
<path d="M549.88 1169.90L592.08 1212.10M549.88 1212.10L592.08 1169.90" fill="none" stroke="#ff6600" stroke-width="6.9" stroke-linecap="butt"/>
<path d="M700.66 1261.10L742.86 1303.30M700.66 1303.30L742.86 1261.10" fill="none" stroke="#ff6600" stroke-width="6.9" stroke-linecap="butt"/>
<path d="M851.44 1336.40L893.64 1378.60M851.44 1378.60L893.64 1336.40" fill="none" stroke="#ff6600" stroke-width="6.9" stroke-linecap="butt"/>
<path d="M1002.22 1395.70L1044.42 1437.90M1002.22 1437.90L1044.42 1395.70" fill="none" stroke="#ff6600" stroke-width="6.9" stroke-linecap="butt"/>
<path d="M1153.00 1445.20L1195.20 1487.40M1153.00 1487.40L1195.20 1445.20" fill="none" stroke="#ff6600" stroke-width="6.9" stroke-linecap="butt"/>
<path d="M1303.78 1492.50L1345.98 1534.70M1303.78 1534.70L1345.98 1492.50" fill="none" stroke="#ff6600" stroke-width="6.9" stroke-linecap="butt"/>
<path d="M1454.56 1544.70L1496.76 1586.90M1454.56 1586.90L1496.76 1544.70" fill="none" stroke="#ff6600" stroke-width="6.9" stroke-linecap="butt"/>
<path d="M1605.34 1608.90L1647.54 1651.10M1605.34 1651.10L1647.54 1608.90" fill="none" stroke="#ff6600" stroke-width="6.9" stroke-linecap="butt"/>
<path d="M1756.12 1689.50L1798.32 1731.70M1756.12 1731.70L1798.32 1689.50" fill="none" stroke="#ff6600" stroke-width="6.9" stroke-linecap="butt"/>
<path d="M1906.90 1777.80L1949.10 1820.00M1906.90 1820.00L1949.10 1777.80" fill="none" stroke="#ff6600" stroke-width="6.9" stroke-linecap="butt"/>
</g>
<g id="series-Es">
<polyline transform="translate(0.3,0.4)" points="418.53,1953.40 569.36,1951.40 720.19,1969.90 871.02,2014.70 1021.85,2084.40 1172.68,2167.00 1323.51,2265.40 1474.34,2373.50 1625.17,2491.50 1776.00,2612.40 1926.83,2734.50" fill="none" stroke="#ff0000" stroke-width="7.6" stroke-linejoin="round" stroke-linecap="round"/>
<path d="M395.03 1953.40H442.03M418.53 1929.90V1976.90" fill="none" stroke="#ff0000" stroke-width="5.6" stroke-linecap="butt"/>
<path d="M545.86 1951.40H592.86M569.36 1927.90V1974.90" fill="none" stroke="#ff0000" stroke-width="5.6" stroke-linecap="butt"/>
<path d="M696.69 1969.90H743.69M720.19 1946.40V1993.40" fill="none" stroke="#ff0000" stroke-width="5.6" stroke-linecap="butt"/>
<path d="M847.52 2014.70H894.52M871.02 1991.20V2038.20" fill="none" stroke="#ff0000" stroke-width="5.6" stroke-linecap="butt"/>
<path d="M998.35 2084.40H1045.35M1021.85 2060.90V2107.90" fill="none" stroke="#ff0000" stroke-width="5.6" stroke-linecap="butt"/>
<path d="M1149.18 2167.00H1196.18M1172.68 2143.50V2190.50" fill="none" stroke="#ff0000" stroke-width="5.6" stroke-linecap="butt"/>
<path d="M1300.01 2265.40H1347.01M1323.51 2241.90V2288.90" fill="none" stroke="#ff0000" stroke-width="5.6" stroke-linecap="butt"/>
<path d="M1450.84 2373.50H1497.84M1474.34 2350.00V2397.00" fill="none" stroke="#ff0000" stroke-width="5.6" stroke-linecap="butt"/>
<path d="M1601.67 2491.50H1648.67M1625.17 2468.00V2515.00" fill="none" stroke="#ff0000" stroke-width="5.6" stroke-linecap="butt"/>
<path d="M1752.50 2612.40H1799.50M1776.00 2588.90V2635.90" fill="none" stroke="#ff0000" stroke-width="5.6" stroke-linecap="butt"/>
<path d="M1903.33 2734.50H1950.33M1926.83 2711.00V2758.00" fill="none" stroke="#ff0000" stroke-width="5.6" stroke-linecap="butt"/>
</g>
<g id="series-Qex">
<polyline transform="translate(0.3,0.4)" points="418.53,2090.80 569.36,2040.30 720.19,1989.70 871.02,1938.60 1021.85,2009.80 1172.68,2110.80 1323.51,2212.40 1474.34,2314.00 1625.17,2414.50 1776.00,2515.90 1926.83,2617.40" fill="none" stroke="#0000ff" stroke-width="7.6" stroke-linejoin="round" stroke-linecap="round"/>
<polygon points="418.53,2074.40 434.93,2090.80 418.53,2107.20 402.13,2090.80" fill="none" stroke="#0000ff" stroke-width="10.3" stroke-linejoin="miter" stroke-miterlimit="10"/>
<polygon points="569.36,2023.90 585.76,2040.30 569.36,2056.70 552.96,2040.30" fill="none" stroke="#0000ff" stroke-width="10.3" stroke-linejoin="miter" stroke-miterlimit="10"/>
<polygon points="720.19,1973.30 736.59,1989.70 720.19,2006.10 703.79,1989.70" fill="none" stroke="#0000ff" stroke-width="10.3" stroke-linejoin="miter" stroke-miterlimit="10"/>
<polygon points="871.02,1922.20 887.42,1938.60 871.02,1955.00 854.62,1938.60" fill="none" stroke="#0000ff" stroke-width="10.3" stroke-linejoin="miter" stroke-miterlimit="10"/>
<polygon points="1021.85,1993.40 1038.25,2009.80 1021.85,2026.20 1005.45,2009.80" fill="none" stroke="#0000ff" stroke-width="10.3" stroke-linejoin="miter" stroke-miterlimit="10"/>
<polygon points="1172.68,2094.40 1189.08,2110.80 1172.68,2127.20 1156.28,2110.80" fill="none" stroke="#0000ff" stroke-width="10.3" stroke-linejoin="miter" stroke-miterlimit="10"/>
<polygon points="1323.51,2196.00 1339.91,2212.40 1323.51,2228.80 1307.11,2212.40" fill="none" stroke="#0000ff" stroke-width="10.3" stroke-linejoin="miter" stroke-miterlimit="10"/>
<polygon points="1474.34,2297.60 1490.74,2314.00 1474.34,2330.40 1457.94,2314.00" fill="none" stroke="#0000ff" stroke-width="10.3" stroke-linejoin="miter" stroke-miterlimit="10"/>
<polygon points="1625.17,2398.10 1641.57,2414.50 1625.17,2430.90 1608.77,2414.50" fill="none" stroke="#0000ff" stroke-width="10.3" stroke-linejoin="miter" stroke-miterlimit="10"/>
<polygon points="1776.00,2499.50 1792.40,2515.90 1776.00,2532.30 1759.60,2515.90" fill="none" stroke="#0000ff" stroke-width="10.3" stroke-linejoin="miter" stroke-miterlimit="10"/>
<polygon points="1926.83,2601.00 1943.23,2617.40 1926.83,2633.80 1910.43,2617.40" fill="none" stroke="#0000ff" stroke-width="10.3" stroke-linejoin="miter" stroke-miterlimit="10"/>
</g>
</svg>
</body>
</html>
